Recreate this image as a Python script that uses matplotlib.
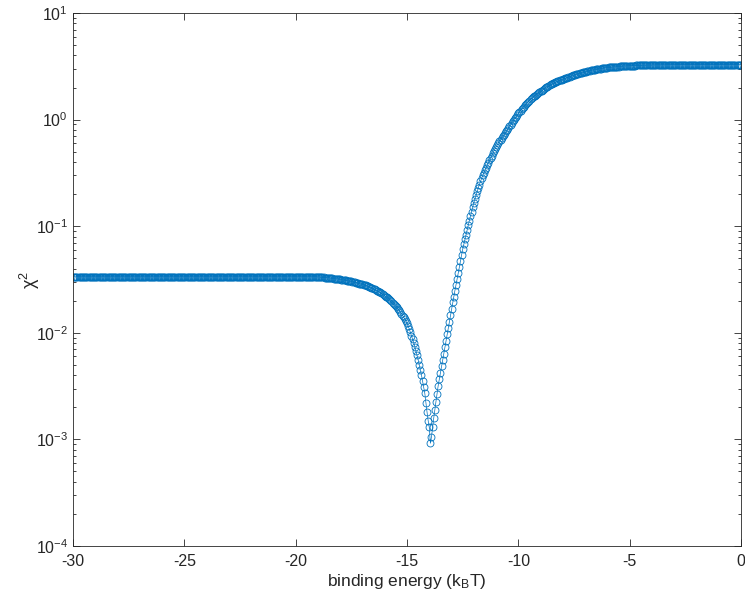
import numpy as np
import matplotlib
matplotlib.use("Agg")
import matplotlib.pyplot as plt

# chi^2 scan over binding energy, step 0.05 kT from -30 to 0
energy = np.round(np.linspace(-30.0, 0.0, 601), 2)

# -30.00 .. -19.05  (flat)
chi2_flat_left = [
    0.0335, 0.0335, 0.0335, 0.0335, 0.0335, 0.0335, 0.0335, 0.0335, 0.0335, 0.0335,
    0.0335, 0.0335, 0.0335, 0.0335, 0.0335, 0.0335, 0.0335, 0.0335, 0.0335, 0.0335,
    0.0335, 0.0335, 0.0335, 0.0335, 0.0335, 0.0335, 0.0335, 0.0335, 0.0335, 0.0335,
    0.0335, 0.0335, 0.0335, 0.0335, 0.0335, 0.0335, 0.0335, 0.0335, 0.0335, 0.0335,
    0.0335, 0.0335, 0.0335, 0.0335, 0.0335, 0.0335, 0.0335, 0.0335, 0.0335, 0.0335,
    0.0335, 0.0335, 0.0335, 0.0335, 0.0335, 0.0335, 0.0335, 0.0335, 0.0335, 0.0335,
    0.0335, 0.0335, 0.0335, 0.0335, 0.0335, 0.0335, 0.0335, 0.0335, 0.0335, 0.0335,
    0.0335, 0.0335, 0.0335, 0.0335, 0.0335, 0.0335, 0.0335, 0.0335, 0.0335, 0.0335,
    0.0335, 0.0335, 0.0335, 0.0335, 0.0335, 0.0335, 0.0335, 0.0335, 0.0335, 0.0335,
    0.0335, 0.0335, 0.0335, 0.0335, 0.0335, 0.0335, 0.0335, 0.0335, 0.0335, 0.0335,
    0.0335, 0.0335, 0.0335, 0.0335, 0.0335, 0.0335, 0.0335, 0.0335, 0.0335, 0.0335,
    0.0335, 0.0335, 0.0335, 0.0335, 0.0335, 0.0335, 0.0335, 0.0335, 0.0335, 0.0335,
    0.0335, 0.0335, 0.0335, 0.0335, 0.0335, 0.0335, 0.0335, 0.0335, 0.0335, 0.0335,
    0.0335, 0.0335, 0.0335, 0.0335, 0.0335, 0.0335, 0.0335, 0.0335, 0.0335, 0.0335,
    0.0335, 0.0335, 0.0335, 0.0335, 0.0335, 0.0335, 0.0335, 0.0335, 0.0335, 0.0335,
    0.0335, 0.0335, 0.0335, 0.0335, 0.0335, 0.0335, 0.0335, 0.0335, 0.0335, 0.0335,
    0.0335, 0.0335, 0.0335, 0.0335, 0.0335, 0.0335, 0.0335, 0.0335, 0.0335, 0.0335,
    0.0335, 0.0335, 0.0335, 0.0335, 0.0335, 0.0335, 0.0335, 0.0335, 0.0335, 0.0335,
    0.0335, 0.0335, 0.0335, 0.0335, 0.0335, 0.0335, 0.0335, 0.0335, 0.0335, 0.0335,
    0.0335, 0.0335, 0.0335, 0.0335, 0.0335, 0.0335, 0.0335, 0.0335, 0.0335, 0.0335,
    0.0335, 0.0335, 0.0335, 0.0335, 0.0335, 0.0335, 0.0335, 0.0335, 0.0335, 0.0335,
    0.0335, 0.0335, 0.0335, 0.0335, 0.0335, 0.0335, 0.0335, 0.0335, 0.0335, 0.0335,
]

# -19.00 .. -13.95  (slow decline, then the dip)
chi2_dip = [
    0.0334, 0.0333, 0.0333, 0.0332, 0.0331, 0.0331, 0.0330, 0.0329, 0.0328, 0.0328,
    0.0327, 0.0326, 0.0325, 0.0324, 0.0323, 0.0322, 0.0321, 0.0320, 0.0319, 0.0318,
    0.0317, 0.0316, 0.0314, 0.0313, 0.0312, 0.0310, 0.0309, 0.0307, 0.0306, 0.0304,
    0.0303, 0.0301, 0.0299, 0.0298, 0.0296, 0.0294, 0.0292, 0.0290, 0.0288, 0.0287,
    0.0285, 0.0283, 0.0280, 0.0278, 0.0275, 0.0273, 0.0270, 0.0267, 0.0265, 0.0262,
    0.0259, 0.0256, 0.0253, 0.0249, 0.0246, 0.0242, 0.0239, 0.0235, 0.0231, 0.0227,
    0.0223, 0.0219, 0.0215, 0.0210, 0.0206, 0.0201, 0.0197, 0.0192, 0.0188, 0.0183,
    0.0179, 0.0173, 0.0168, 0.0162, 0.0157, 0.0151, 0.0145, 0.0140, 0.0135, 0.0129,
    0.0123, 0.0116, 0.0109, 0.0101, 0.0094, 0.0087, 0.0081, 0.0074, 0.0068, 0.0062,
    0.0056, 0.0050, 0.0045, 0.0040, 0.0035, 0.0031, 0.0027, 0.0022, 0.0018, 0.0015,
    0.00130, 0.00092,
]

# -13.90 .. -5.00  (rise)
chi2_rise = [
    0.00106, 0.00130, 0.00158, 0.00190, 0.00226, 0.00269, 0.00319, 0.00366, 0.00421, 0.00483,
    0.00554, 0.00637, 0.00731, 0.00839, 0.00964, 0.0111, 0.0127, 0.0146, 0.0168,
    0.0193, 0.0218, 0.0248, 0.0281, 0.0319, 0.0362, 0.0411, 0.0472, 0.0536, 0.0608,
    0.0675, 0.0751, 0.0833, 0.0922, 0.102, 0.113, 0.124, 0.137, 0.150, 0.166,
    0.180, 0.196, 0.212, 0.228, 0.246, 0.263, 0.281, 0.299, 0.317, 0.334,
    0.354, 0.374, 0.394, 0.416, 0.437, 0.460, 0.483, 0.506, 0.530, 0.554,
    0.578, 0.601, 0.625, 0.648, 0.672, 0.698, 0.723, 0.748, 0.775, 0.802,
    0.831, 0.862, 0.895, 0.929, 0.963, 0.997, 1.033, 1.069, 1.106, 1.146,
    1.180, 1.216, 1.250, 1.285, 1.321, 1.358, 1.396, 1.435, 1.472, 1.510,
    1.545, 1.581, 1.614, 1.648, 1.682, 1.713, 1.745, 1.778, 1.807, 1.836,
    1.870, 1.905, 1.941, 1.971, 2.004, 2.036, 2.070, 2.103, 2.137, 2.167,
    2.192, 2.217, 2.243, 2.264, 2.285, 2.306, 2.327, 2.349, 2.370, 2.393,
    2.415, 2.437, 2.460, 2.482, 2.505, 2.528, 2.552, 2.576, 2.600, 2.617,
    2.635, 2.654, 2.672, 2.691, 2.709, 2.728, 2.747, 2.766, 2.779, 2.791,
    2.811, 2.831, 2.850, 2.870, 2.890, 2.903, 2.917, 2.930, 2.944, 2.957,
    2.970, 2.984, 2.998, 3.012, 3.026, 3.040, 3.054, 3.061, 3.068, 3.076,
    3.082, 3.089, 3.097, 3.104, 3.110, 3.118, 3.125, 3.132, 3.139, 3.147,
    3.154, 3.161, 3.169, 3.169, 3.176, 3.183, 3.183, 3.190, 3.190, 3.198,
]

# -4.95 .. 0.00  (flat)
chi2_flat_right = [
    3.198, 3.206, 3.206, 3.213, 3.213, 3.220, 3.220, 3.220, 3.228, 3.228,
    3.228, 3.235, 3.235, 3.235, 3.243, 3.243, 3.243, 3.250, 3.250, 3.250,
    3.250, 3.258, 3.258, 3.258, 3.258, 3.258, 3.265, 3.265, 3.265, 3.265,
    3.265, 3.265, 3.272, 3.272, 3.272, 3.272, 3.272, 3.272, 3.272, 3.272,
    3.280, 3.280, 3.280, 3.280, 3.280, 3.280, 3.280, 3.280, 3.280, 3.280,
    3.280, 3.280, 3.280, 3.280, 3.280, 3.280, 3.280, 3.280, 3.280, 3.280,
    3.280, 3.280, 3.280, 3.280, 3.280, 3.280, 3.280, 3.280, 3.280, 3.280,
    3.280, 3.280, 3.280, 3.280, 3.280, 3.280, 3.280, 3.280, 3.280, 3.280,
    3.280, 3.280, 3.280, 3.280, 3.280, 3.280, 3.280, 3.280, 3.280, 3.280,
    3.280, 3.280, 3.280, 3.280, 3.280, 3.280, 3.280, 3.280, 3.280, 3.280,
]

chi2 = np.array(chi2_flat_left + chi2_dip + chi2_rise + chi2_flat_right)
assert len(chi2) == len(energy), (len(chi2_flat_left), len(chi2_dip),
                                  len(chi2_rise), len(chi2_flat_right))

plt.rcParams["font.family"] = ["Liberation Sans", "DejaVu Sans"]
plt.rcParams["mathtext.fontset"] = "custom"
plt.rcParams["mathtext.rm"] = "Liberation Sans"
plt.rcParams["mathtext.it"] = "Liberation Sans:italic"
plt.rcParams["mathtext.default"] = "regular"
plt.rcParams["axes.unicode_minus"] = False

axcol = "#262626"
blue = "#0072BD"

fig = plt.figure(figsize=(7.45, 5.95), dpi=100)
ax = fig.add_axes([73 / 745, 1 - 546 / 595, (741 - 73) / 745, (546 - 13) / 595])

ax.semilogy(energy, chi2, "-o", color=blue, lw=0.5, ms=5, mfc="none", mew=0.6)

ax.set_xlim(-30, 0)
ax.set_ylim(1e-4, 1e1)
ax.set_xticks([-30, -25, -20, -15, -10, -5, 0])
ax.set_yticks([1e-4, 1e-3, 1e-2, 1e-1, 1e0, 1e1])

for s in ax.spines.values():
    s.set_color(axcol)
    s.set_linewidth(0.6)
ax.tick_params(which="both", direction="in", top=True, right=True, colors=axcol,
               labelcolor=axcol, width=0.6, labelsize=11.5)
ax.tick_params(which="major", length=5)
ax.tick_params(which="minor", length=2.5)
ax.tick_params(axis="x", pad=6)

ax.set_xlabel(r"binding energy (k$_\mathrm{B}$T)", fontsize=12.5, color=axcol, labelpad=2)
ax.set_ylabel(r"$\chi^2$", fontsize=13, color=axcol)
ax.yaxis.set_label_coords(-0.047, 0.5)

fig.savefig("out.png", dpi=100)
